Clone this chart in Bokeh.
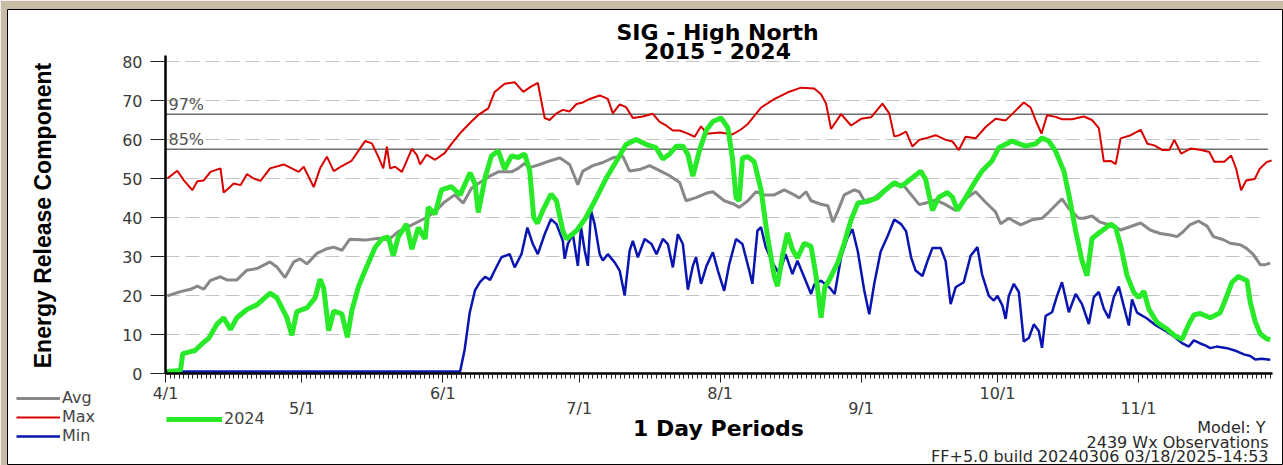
import math
from bokeh.plotting import figure
from bokeh.models import Range1d, FixedTicker, LinearAxis, Label, Legend, LegendItem
from bokeh.embed import file_html
from bokeh.resources import INLINE

# ---------------- data (day index from 4/1) ----------------
month_days = [0, 30, 61, 91, 122, 153, 183, 214]
month_labels = ["4/1", "5/1", "6/1", "7/1", "8/1", "9/1", "10/1", "11/1"]
y_ticks = [0, 10, 20, 30, 40, 50, 60, 70, 80]
pct_levels = [66.5, 57.5]
pct_labels = ["97%", "85%"]

max_day = [0.4, 2.6, 4.0, 5.9, 7.0, 8.4, 9.9, 12.1, 12.8, 13.9, 15.0, 16.5, 17.9, 19.4, 20.9, 23.0, 26.0, 29.3,
           30.4, 32.6, 34.0, 35.5, 37.0, 38.8, 40.9, 43.9, 45.4, 46.8, 47.9, 48.7, 49.4, 50.5, 52.0, 54.2, 55.3,
           56.0, 57.4, 59.3, 61.4, 62.9, 65.1, 67.3, 68.8, 71.0, 72.4, 74.6, 76.8, 78.7, 80.3, 81.9, 83.4, 84.5,
           86.0, 87.4, 88.9, 90.4, 91.8, 93.3, 95.5, 97.3, 98.4, 99.9, 101.3, 102.8, 105.0, 107.2, 108.7, 110.1,
           111.6, 113.1, 114.9, 116.4, 117.8, 119.0, 122.0, 124.7, 126.5, 128.1, 131.0, 134.0, 136.9, 139.8,
           142.7, 144.2, 145.3, 146.4, 148.6, 150.8, 153.0, 155.2, 157.7, 159.2, 160.3, 161.4, 162.9, 164.3,
           165.8, 167.2, 169.4, 171.6, 173.1, 174.5, 176.0, 178.2, 180.4, 182.6, 184.8, 187.0, 188.8, 190.3,
           191.7, 192.7, 193.9, 195.8, 197.2, 199.4, 202.0, 203.8, 205.3, 206.4, 207.9, 209.0, 210.1, 212.3,
           214.5, 216.0, 217.5, 219.3, 220.8, 221.9, 223.4, 225.6, 227.8, 229.6, 230.7, 232.9, 234.4, 235.5,
           236.6, 237.7, 239.6, 240.7, 242.2, 243.3]
max_val = [50.0, 52.0, 49.6, 47.0, 49.3, 49.5, 51.7, 52.6, 46.4, 47.5, 48.7, 48.3, 51.1, 50.0, 49.4, 52.6, 53.6, 51.7,
           53.0, 47.8, 52.6, 55.6, 51.9, 53.2, 54.5, 59.6, 59.0, 55.6, 52.6, 58.2, 52.6, 53.0, 51.7, 57.6, 56.0,
           53.6, 56.1, 54.8, 56.5, 58.9, 62.0, 64.6, 66.3, 68.0, 72.2, 74.3, 74.7, 72.2, 73.5, 74.5, 65.5, 65.0,
           66.7, 67.6, 67.2, 69.1, 69.5, 70.4, 71.3, 70.4, 66.7, 69.0, 68.3, 65.5, 65.9, 66.6, 64.5, 63.6,
           62.3, 62.3, 61.5, 60.7, 63.4, 61.5, 61.8, 61.3, 62.5, 64.0, 68.2, 70.4, 72.1, 73.3,
           73.1, 71.6, 69.2, 62.7, 66.5, 63.6, 65.3, 65.7, 69.2, 66.7, 60.8, 61.1, 62.0, 58.2,
           59.9, 60.3, 61.1, 59.9, 59.5, 57.3, 60.7, 60.3, 63.2, 65.3, 64.9, 67.4, 69.5, 68.2,
           64.1, 61.5, 66.2, 65.8, 65.2, 65.2, 65.9, 65.0, 62.9, 54.4, 54.5, 53.7, 60.3, 61.1,
           62.5, 58.9, 58.5, 57.3, 57.3, 59.9, 56.4, 57.7, 57.3, 56.8, 54.3, 54.3, 55.9, 52.5,
           47.0, 49.5, 49.9, 52.5, 54.2, 54.6]

avg_day = [0.4, 3.3, 5.5, 7.0, 8.4, 9.9, 12.1, 13.5, 15.7, 17.9, 20.1, 23.0, 24.5, 26.3, 28.2, 29.6, 31.1, 33.3,
           35.5, 37.0, 38.8, 40.5, 43.9, 46.8, 49.0, 51.2, 54.2, 57.1, 59.3, 61.4, 63.6, 65.5, 67.3, 68.8, 71.0,
           73.2, 76.1, 77.6, 79.0, 80.1, 82.3, 84.5, 86.7, 88.9, 90.7, 91.8, 94.0, 96.2, 98.4, 100.6, 102.1,
           104.3, 106.5, 108.7, 110.9, 113.1, 114.5, 116.7, 118.9, 120.4, 122.9, 125.1, 126.2, 128.1, 129.9,
           131.7, 133.9, 136.1, 138.3, 139.4, 140.9, 142.0, 144.2, 145.7, 146.8, 147.9, 149.3, 151.5, 152.6,
           153.7, 155.9, 158.1, 160.3, 162.5, 165.8, 167.2, 169.4, 171.6, 173.8, 176.0, 178.2, 180.4, 182.6,
           183.7, 185.5, 188.1, 190.6, 192.8, 194.3, 197.2, 198.7, 200.9, 202.0, 203.8, 205.6, 207.9, 210.1,
           212.3, 214.5, 216.6, 218.8, 221.0, 222.5, 223.9, 225.4, 227.2, 229.1, 230.5, 232.7, 234.2, 236.4,
           237.8, 239.3, 240.8, 241.9, 243.0]
avg_val = [19.9, 21.0, 21.6, 22.4, 21.6, 23.9, 24.8, 24.0, 24.0, 26.5, 26.9, 28.6, 27.3, 24.6, 28.6, 29.4, 28.1, 30.8,
           32.0, 32.4, 31.6, 34.4, 34.2, 34.7, 34.2, 36.4, 38.1, 39.8, 41.5, 44.0, 45.8, 43.7, 47.5, 48.7, 50.4,
           51.7, 51.7, 52.6, 53.9, 52.8, 53.6, 54.5, 55.3, 53.6, 48.4, 51.9, 53.3, 54.1, 55.3, 55.7, 51.9,
           52.3, 53.3, 52.0, 50.7, 49.0, 44.3, 45.1, 46.2, 46.6, 44.3, 43.4, 42.6, 44.3, 46.6,
           45.8, 45.8, 47.1, 45.8, 45.0, 46.6, 44.3, 43.4, 43.0, 38.8, 41.7, 45.8, 47.1, 46.6,
           44.3, 45.0, 47.1, 48.4, 48.0, 43.3, 43.7, 44.5, 43.3, 41.8, 44.8, 46.6, 43.9, 41.4,
           38.4, 39.8, 38.1, 39.4, 39.8, 41.4, 44.8, 42.3, 39.8, 39.8, 40.4, 38.8, 38.0, 36.8,
           37.7, 38.6, 36.8, 35.9, 35.5, 35.1, 36.4, 38.2, 39.1, 37.8, 35.1, 34.3, 33.4, 33.0,
           32.1, 30.5, 27.9, 27.9, 28.3]

min_day = [0, 64.8, 65.8, 66.9, 68.1, 69.2, 70.3, 71.4, 72.4, 73.9, 75.7, 76.8, 78.3, 79.6, 80.8, 81.9, 83.4, 84.8,
           86.0, 87.4, 87.8, 88.5, 89.6, 90.7, 91.4, 92.2, 92.9, 93.6, 94.4, 95.5, 96.2, 97.3, 98.8, 99.9, 101.0,
           102.1, 102.8, 103.9, 105.4, 106.9, 108.0, 109.4, 110.5, 111.6, 112.7, 113.8, 114.9, 116.0, 116.7,
           117.8, 119.0, 120.4, 121.5, 122.9, 124.0, 125.5, 126.9, 128.4, 129.1, 130.2, 131.0, 132.0, 133.5,
           135.0, 136.4, 137.9, 139.0, 140.5, 142.0, 142.7, 144.2, 146.1, 147.2, 148.6, 150.0, 151.1, 152.3,
           153.7, 154.8, 155.9, 157.3, 158.8, 160.3, 161.8, 162.9, 164.0, 165.0, 166.5, 167.6, 168.7, 170.5,
           171.6, 172.7, 173.8, 175.6, 177.1, 178.6, 179.6, 181.1, 182.2, 183.0, 184.1, 184.8, 185.5, 186.6,
           187.7, 188.8, 189.9, 191.0, 192.1, 192.8, 193.6, 195.0, 196.1, 197.2, 198.7, 200.2, 201.6, 203.1,
           204.2, 205.3, 206.4, 207.5, 208.6, 209.7, 210.8, 211.9, 212.6, 213.7, 215.9, 217.8, 219.6, 221.8,
           223.6, 225.1, 226.2, 227.6, 228.7, 229.8, 231.2, 233.5, 235.7, 237.2, 238.6, 239.7, 241.1, 243.0]
min_val = [0.5, 0.5, 6.1, 15.5, 21.4, 23.5, 24.8, 24.0, 26.4, 29.8, 30.6, 27.2, 30.6, 37.4, 33.2, 30.6, 35.7, 39.6,
           38.3, 34.0, 29.4, 33.2, 35.7, 27.6, 37.5, 31.6, 27.6, 41.7, 38.3, 30.6, 29.0, 30.6, 28.5, 26.4, 20.0,
           31.5, 34.0, 29.8, 34.5, 33.2, 30.6, 34.5, 33.2, 27.2, 35.7, 33.2, 21.5, 27.6, 29.8,
           23.0, 27.6, 31.1, 26.4, 21.2, 28.0, 34.5, 33.2, 26.4, 23.0, 36.6, 37.5, 32.5, 28.5,
           25.5, 30.6, 25.5, 28.9, 24.7, 20.4, 22.8, 23.8, 22.0, 20.4, 29.8, 34.8, 37.0, 31.2,
           21.3, 15.2, 23.0, 31.2, 35.1, 39.5, 38.3, 36.5, 29.8, 26.4, 25.0, 28.8, 32.2, 32.2,
           28.8, 17.8, 22.1, 23.4, 30.2, 32.4, 25.5, 19.9, 18.7, 19.9, 17.4, 14.0, 19.9, 23.0,
           20.9, 8.2, 9.1, 12.6, 10.9, 6.6, 14.8, 15.7, 19.9, 23.4, 15.7, 20.4, 17.8, 12.7,
           19.6, 20.9, 16.6, 14.2, 19.6, 22.3, 17.2, 12.3, 19.0, 15.6, 14.1, 12.4, 11.2, 9.5,
           7.8, 6.9, 8.5, 7.7, 7.2, 6.5, 6.9, 6.5, 5.7, 4.9, 4.5, 3.6, 3.8, 3.5]

y24_day = [0.4, 3.3, 3.8, 5.5, 6.5, 8.4, 9.5, 11.3, 12.8, 14.3, 15.7, 17.9, 20.1, 23.0, 24.5, 26.7, 27.8, 28.9,
           31.1, 32.9, 34.0, 34.8, 35.9, 37.0, 38.8, 40.0, 41.0, 42.4, 43.9, 46.1, 47.6, 49.0, 50.1, 51.2, 53.0,
           54.2, 55.6, 57.1, 57.8, 59.3, 60.7, 62.9, 64.8, 67.0, 68.1, 68.8, 70.3, 71.7, 73.2, 74.6, 76.1, 77.6,
           79.0, 80.1, 81.0, 81.8, 83.0, 84.8, 86.0, 87.4, 88.2, 90.4, 92.5, 94.8, 97.0, 99.2, 101.3, 103.5,
           105.8, 107.9, 109.4, 110.9, 112.4, 113.8, 114.9, 116.0, 117.5, 119.0, 120.4, 122.2, 123.7, 124.7,
           125.5, 126.2, 126.9, 128.1, 129.5, 131.0, 132.4, 133.9, 134.6, 135.7, 136.8, 137.9, 139.0, 140.5,
           142.0, 143.1, 144.2, 145.0, 146.1, 147.9, 149.3, 150.8, 152.3, 154.5, 156.6, 158.1, 160.3, 161.8,
           162.9, 164.3, 166.1, 167.2, 168.7, 170.1, 172.0, 173.1, 174.2, 176.0, 178.2, 179.6, 181.8, 183.3,
           186.2, 189.2, 191.4, 192.8, 194.3, 195.8, 197.6, 198.7, 200.2, 201.6, 202.7, 203.8, 205.6, 207.9,
           209.0, 210.1, 211.5, 213.0, 214.1, 215.2, 216.3, 218.1, 220.3, 222.1, 223.6, 225.1, 226.2, 227.6,
           229.8, 232.0, 233.5, 234.6, 236.0, 237.9, 238.6, 239.7, 240.8, 242.2, 243.0]
y24_val = [0.5, 0.8, 5.1, 5.6, 5.9, 8.0, 9.0, 12.6, 14.3, 11.3, 14.3, 16.4, 17.6, 20.6, 19.4, 14.3, 9.8, 15.9,
           16.8, 19.4, 24.2, 21.9, 11.0, 16.0, 15.3, 9.3, 16.2, 22.1, 26.4, 32.3, 34.5, 35.0, 30.2, 35.0, 38.3,
           31.9, 37.4, 34.5, 42.6, 40.9, 47.1, 47.9, 45.8, 51.5, 48.5, 41.3, 50.2, 55.8, 57.1, 52.4, 55.8, 55.4,
           56.3, 52.1, 40.0, 38.5, 41.8, 46.0, 44.3, 36.6, 34.5, 36.6, 40.0, 45.1, 50.2, 54.5, 58.7, 60.0,
           58.7, 57.9, 55.0, 56.3, 58.3, 58.3, 56.2, 50.6, 57.4, 62.5, 64.6, 65.5, 63.0, 55.3,
           45.1, 44.3, 55.3, 55.6, 54.3, 47.1, 35.2, 25.0, 22.4, 30.1, 36.0, 31.8, 29.6, 33.4,
           32.6, 25.0, 14.3, 22.0, 24.2, 28.5, 33.4, 39.4, 43.7, 44.1, 45.1, 46.8, 48.9, 48.0,
           48.9, 50.2, 51.9, 49.8, 41.8, 45.2, 46.4, 45.2, 41.8, 45.1, 49.4, 51.9, 54.5, 57.9,
           59.6, 58.3, 58.9, 60.4, 59.6, 57.0, 51.9, 45.9, 36.6, 28.9, 25.1, 34.6, 36.3, 38.3,
           37.4, 32.8, 25.1, 20.8, 19.5, 21.1, 16.5, 13.1, 11.4, 9.6, 8.8, 12.7, 15.0, 15.4,
           14.3, 15.6, 20.0, 23.4, 24.9, 23.8, 18.3, 13.3, 10.2, 8.9, 8.7]

title_lines = ["SIG - High North", "2015 - 2024"]
y_title = "Energy Release Component"
x_title = "1 Day Periods"
footer_lines = ["Model: Y", "2439 Wx Observations", "FF+5.0 build 20240306 03/18/2025-14:53"]

# ---------------- layout geometry (canvas pixels from the top-left) ----------------
W, H = 1283, 465
FL, FT, FR, FB = 7, 9, 1283, 464              # white panel (frame) edges
PL, PR, PT, PB = 165, 1272, 55, 373           # plot area edges
X0, X1, Y0, Y1 = 0.0, 243.5, 0.0, 81.54       # data extent of the plot area
sx = (PR - PL) / (X1 - X0)
sy = (PB - PT) / (Y1 - Y0)
x_rng = Range1d(X0 - (PL - FL) / sx, X1 + (FR - PR) / sx)
y_rng = Range1d(Y0 - (FB - PB) / sy, Y1 + (PT - FT) / sy)

def sc(fx, fy):
    """canvas pixel (from top-left) -> screen units of the frame (from its bottom-left)"""
    return fx - FL, FB - fy

FONT = "DejaVu Sans"
p = figure(width=W, height=H, output_backend="svg", toolbar_location=None,
           x_range=x_rng, y_range=y_rng, min_border=0,
           min_border_left=FL, min_border_right=W - FR, min_border_top=FT, min_border_bottom=H - FB)
p.outline_line_color = "black"
p.outline_line_width = 1
p.background_fill_color = "white"
p.border_fill_color = "#c9bca6"
p.xgrid.visible = False

# y axis at x = 0
ya = p.yaxis[0]
ya.fixed_location = 0
ya.bounds = (Y0, Y1)
ya.ticker = FixedTicker(ticks=y_ticks)
ya.axis_line_width = 2.5
ya.axis_line_color = "black"
ya.major_tick_out = 15
ya.major_tick_in = 0
ya.major_tick_line_color = "#222222"
ya.minor_tick_line_color = None
ya.major_label_standoff = 8
ya.major_label_text_font = FONT
ya.major_label_text_font_size = "16px"
ya.major_label_text_color = "#3a3a3a"

# grid
grid = p.ygrid[0]
grid.grid_line_color = "#c4c4c4"
grid.grid_line_dash = "14 6"
grid.grid_line_width = 1
if "cross_bounds" in grid.properties():
    grid.cross_bounds = (X0, X1 - 2)
else:
    grid.visible = False
    gl = [t for t in y_ticks if t > 0]
    p.segment(x0=[X0] * len(gl), x1=[X1 - 2] * len(gl), y0=gl, y1=gl,
              line_color="#c4c4c4", line_dash="14 6", line_width=1)

# x axis at y = 0, first row of month labels
even_over = {d: (lab if i % 2 == 0 else "") for i, (d, lab) in enumerate(zip(month_days, month_labels))}
odd_days = [d for i, d in enumerate(month_days) if i % 2 == 1]
odd_over = {d: lab for i, (d, lab) in enumerate(zip(month_days, month_labels)) if i % 2 == 1}
all_days = list(range(0, 244))

xa = p.xaxis[0]
xa.fixed_location = 0
xa.bounds = (X0, X1)
xa.ticker = FixedTicker(ticks=month_days, minor_ticks=all_days)
xa.major_label_overrides = even_over
xa.axis_line_width = 2.5
xa.axis_line_color = "black"
xa.major_tick_out = 9
xa.major_tick_in = 0
xa.minor_tick_out = 5
xa.minor_tick_in = 0
xa.major_tick_line_color = "#222222"
xa.minor_tick_line_color = "#222222"
xa.major_label_standoff = 1
xa.major_label_text_font = FONT
xa.major_label_text_font_size = "16px"
xa.major_label_text_color = "#3a3a3a"

# second row of month labels
xa2 = LinearAxis(fixed_location=0, bounds=(X0, X1), ticker=FixedTicker(ticks=odd_days),
                 major_label_overrides=odd_over,
                 axis_line_color=None, major_tick_line_color=None, minor_tick_line_color=None,
                 major_tick_out=0, major_tick_in=0, minor_tick_out=0, minor_tick_in=0,
                 major_label_standoff=25, major_label_text_font=FONT,
                 major_label_text_font_size="16px", major_label_text_color="#3a3a3a")
p.add_layout(xa2, "below")

# percentile reference lines
p.segment(x0=[X0] * len(pct_levels), x1=[X1 - 1] * len(pct_levels), y0=pct_levels, y1=pct_levels,
          line_color="#6e6e6e", line_width=1.5)
for lvl, lab in zip(pct_levels, pct_labels):
    p.add_layout(Label(x=X0, y=lvl, x_offset=3, text=lab, text_baseline="bottom",
                       text_font=FONT, text_font_size="16px", text_color="#555555"))

# series
r_avg = p.line(avg_day, avg_val, line_color="#888888", line_width=3)
r_max = p.line(max_day, max_val, line_color="#d80000", line_width=2)
r_min = p.line(min_day, min_val, line_color="#0a14b0", line_width=2.5)
r_24 = p.line(y24_day, y24_val, line_color="#28ea28", line_width=5)

common = dict(spacing=0, padding=0, margin=0, label_standoff=2, border_line_color=None,
              background_fill_alpha=0, label_text_font=FONT, label_text_font_size="16px",
              label_text_color="#444444", label_height=18, glyph_height=18)
leg1 = Legend(items=[LegendItem(label="Avg", renderers=[r_avg]),
                     LegendItem(label="Max", renderers=[r_max]),
                     LegendItem(label="Min", renderers=[r_min])],
              location=sc(16, 445), glyph_width=44, **common)
leg2 = Legend(items=[LegendItem(label="2024", renderers=[r_24])],
              location=sc(166, 428), glyph_width=56, **common)
p.add_layout(leg1)
p.add_layout(leg2)

# titles
for txt, fy in zip(title_lines, [32, 51]):
    tx, ty = sc(717, fy)
    p.add_layout(Label(x=tx, y=ty, x_units="screen", y_units="screen", text=txt,
                       text_align="center", text_baseline="alphabetic", text_font=FONT,
                       text_font_style="bold", text_font_size="22px", text_color="black"))

# axis titles
tx, ty = sc(42, 215)
p.add_layout(Label(x=tx, y=ty, x_units="screen", y_units="screen", text=y_title, angle=math.pi / 2,
                   text_align="center", text_baseline="middle", text_font="Liberation Sans",
                   text_font_style="bold", text_font_size="23px", text_color="black"))
tx, ty = sc(718, 428)
p.add_layout(Label(x=tx, y=ty, x_units="screen", y_units="screen", text=x_title,
                   text_align="center", text_baseline="middle", text_font=FONT,
                   text_font_style="bold", text_font_size="22px", text_color="black"))

# footer texts
for txt, fx, fy in zip(footer_lines, [1265, 1268, 1268], [427, 442, 456]):
    tx, ty = sc(fx, fy)
    p.add_layout(Label(x=tx, y=ty, x_units="screen", y_units="screen", text=txt,
                       text_align="right", text_baseline="middle", text_font=FONT,
                       text_font_size="16px", text_color="#2a2a2a"))

open("out.html", "w").write(file_html(p, INLINE))
